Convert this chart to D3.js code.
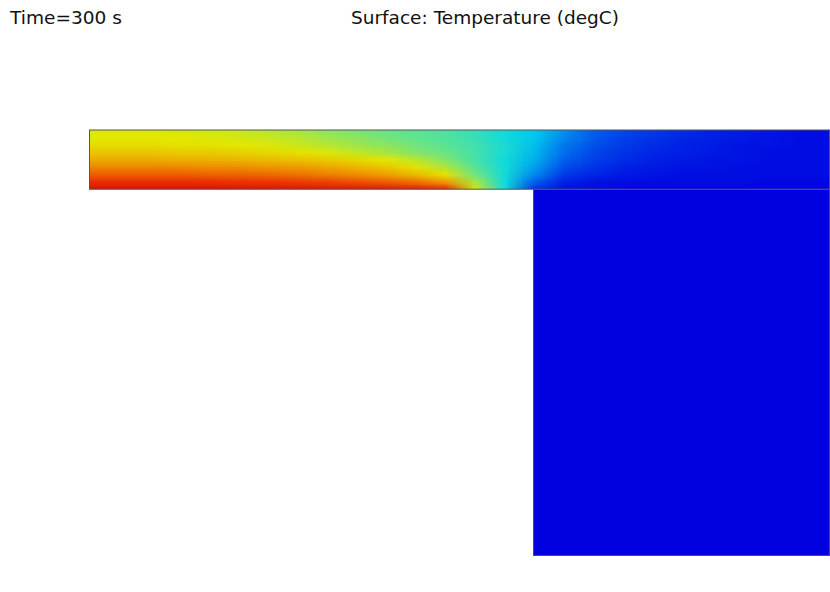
<!DOCTYPE html>
<html lang="en">
<head>
    <meta charset="UTF-8">
    <title>Surface: Temperature (degC)</title>
    <script src="https://d3js.org/d3.v7.min.js"></script>
    <style>
        body { margin: 0; background: #fff; }
        text { font-family: "DejaVu Sans", sans-serif; fill: #111; }
    </style>
</head>
<body>
<div id="chart"></div>
<script>
    // sample positions of the temperature field (mm)
    const xs = [0, 4, 8, 12, 16, 20, 24, 28, 32, 36, 40, 44, 48, 52, 56, 60, 64, 68, 72, 76, 80, 84, 88, 92, 96, 100];
    const ys = [8, 7, 6, 5, 4, 3, 2, 1, 0]; // top of plate -> bottom of plate

    // temperature (degC), one row per ys value
    const temps = [
        [79, 79, 79, 78, 78, 77, 75, 73, 70, 68, 66, 64, 62, 58, 53, 48, 41, 35, 31, 29, 27, 25, 24, 23, 22, 22],
        [80, 80, 80, 80, 79, 78, 77, 75, 72, 70, 67, 65, 63, 59, 53, 48, 40, 34, 30, 28, 26, 25, 24, 23, 22, 22],
        [82, 82, 82, 81, 81, 80, 79, 77, 75, 72, 70, 67, 64, 60, 54, 47, 38, 33, 29, 27, 25, 24, 23, 23, 22, 22],
        [86, 86, 86, 85, 85, 84, 83, 81, 79, 76, 73, 69, 66, 61, 54, 46, 37, 31, 28, 26, 25, 24, 23, 22, 22, 22],
        [91, 91, 91, 90, 90, 89, 88, 87, 85, 83, 80, 75, 69, 61, 53, 45, 35, 30, 27, 25, 24, 23, 23, 22, 22, 22],
        [97, 97, 97, 97, 96, 96, 95, 94, 92, 89, 86, 81, 74, 64, 53, 43, 32, 28, 25, 24, 23, 23, 22, 22, 22, 22],
        [103, 103, 103, 103, 102, 102, 101, 100, 98, 96, 93, 88, 81, 67, 53, 40, 29, 26, 24, 23, 22, 22, 22, 22, 22, 22],
        [110, 110, 110, 110, 110, 109, 109, 108, 107, 105, 103, 100, 94, 73, 53, 35, 25, 23, 22, 22, 22, 22, 22, 21, 21, 21],
        [119, 119, 119, 119, 119, 119, 118, 118, 117, 117, 116, 115, 112, 78, 53, 28, 23, 22, 21, 21, 21, 21, 21, 21, 21, 21]
    ];
    const blockTemp = 20;

    // geometry (mm)
    const plateX = [0, 100];
    const plateY = [0, 8];
    const blockX = [60, 100];
    const blockY = [-49.5, 0];

    // rainbow colour table
    const colorDomain = [20, 35, 50, 65, 80, 95, 110, 120];
    const colorRange = ["#0000e0", "#0060ee", "#00d8ec", "#60e490", "#e4e800", "#f09400", "#ea2e00", "#d81000"];

    const width = 830;
    const height = 592;

    const svg = d3.select("#chart").append("svg")
        .attr("width", width)
        .attr("height", height);

    const x = d3.scaleLinear().domain([0, 100]).range([89.5, 829.5]);
    const y = d3.scaleLinear().domain([8, -49.5]).range([130, 555.5]);
    const color = d3.scaleLinear().domain(colorDomain).range(colorRange).clamp(true);

    // titles
    svg.append("text")
        .attr("x", 10).attr("y", 24)
        .attr("font-size", 18)
        .attr("textLength", 112).attr("lengthAdjust", "spacingAndGlyphs")
        .text("Time=300 s");
    svg.append("text")
        .attr("x", 351).attr("y", 24)
        .attr("font-size", 18)
        .attr("textLength", 268).attr("lengthAdjust", "spacingAndGlyphs")
        .text("Surface: Temperature (degC)");

    // block (uniform temperature)
    svg.append("rect")
        .attr("x", x(blockX[0])).attr("y", y(blockY[1]))
        .attr("width", x(blockX[1]) - x(blockX[0]))
        .attr("height", y(blockY[0]) - y(blockY[1]))
        .attr("fill", color(blockTemp))
        .attr("stroke", "#4a4a70").attr("stroke-width", 1);

    // plate: the sampled field painted to a small image, smoothed when scaled
    const canvas = document.createElement("canvas");
    canvas.width = xs.length;
    canvas.height = ys.length;
    const ctx = canvas.getContext("2d");
    const img = ctx.createImageData(xs.length, ys.length);
    temps.forEach((row, j) => {
        row.forEach((t, i) => {
            const c = d3.rgb(color(t));
            const k = (j * xs.length + i) * 4;
            img.data[k] = c.r;
            img.data[k + 1] = c.g;
            img.data[k + 2] = c.b;
            img.data[k + 3] = 255;
        });
    });
    ctx.putImageData(img, 0, 0);

    const dx = xs[1] - xs[0];
    const dy = ys[0] - ys[1];

    svg.append("clipPath").attr("id", "plate-clip")
        .append("rect")
        .attr("x", x(plateX[0])).attr("y", y(plateY[1]))
        .attr("width", x(plateX[1]) - x(plateX[0]))
        .attr("height", y(plateY[0]) - y(plateY[1]));

    svg.append("image")
        .attr("clip-path", "url(#plate-clip)")
        .attr("preserveAspectRatio", "none")
        .attr("x", x(xs[0] - dx / 2))
        .attr("y", y(ys[0] + dy / 2))
        .attr("width", x(xs[xs.length - 1] + dx / 2) - x(xs[0] - dx / 2))
        .attr("height", y(ys[ys.length - 1] - dy / 2) - y(ys[0] + dy / 2))
        .attr("href", canvas.toDataURL());

    svg.append("rect")
        .attr("x", x(plateX[0])).attr("y", y(plateY[1]))
        .attr("width", x(plateX[1]) - x(plateX[0]))
        .attr("height", y(plateY[0]) - y(plateY[1]))
        .attr("fill", "none")
        .attr("stroke", "#555").attr("stroke-width", 1);
</script>
</body>
</html>
